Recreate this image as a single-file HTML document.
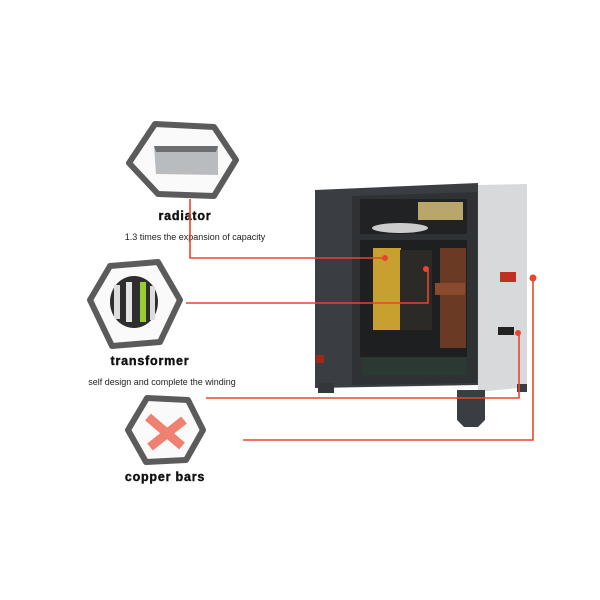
<!DOCTYPE html>
<html><head><style>
html,body{margin:0;padding:0;background:#fff;}
svg{display:block}
text{font-family:"Liberation Sans",Arial,sans-serif;}
</style></head><body>
<svg width="600" height="600" viewBox="0 0 600 600">
<rect width="600" height="600" fill="#fff"/>
<!-- hexagons -->
<polygon points="129,163 155,124 214,127 236,160 214,196 158,194" fill="#fafafa" stroke="#5b5b5b" stroke-width="6" stroke-linejoin="round"/>
<polygon points="154,146 218,146 218,175 156,174" fill="#b9bcbf"/>
<polygon points="154,146 218,146 216,152 156,152" fill="#6c6f72"/>
<polygon points="90,300 110,266 158,262 180,300 160,342 112,346" fill="#fafafa" stroke="#5b5b5b" stroke-width="6" stroke-linejoin="round"/>
<ellipse cx="134" cy="302" rx="24" ry="26" fill="#2e2e2e"/>
<rect x="114" y="285" width="6" height="34" fill="#ddd"/><rect x="126" y="282" width="6" height="40" fill="#e4e4e4"/><rect x="140" y="282" width="6" height="40" fill="#9acd32"/><rect x="150" y="286" width="5" height="34" fill="#ddd"/>
<polygon points="128,430 147,398 188,400 203,430 186,460 146,462" fill="#fafafa" stroke="#5b5b5b" stroke-width="6" stroke-linejoin="round"/>
<path d="M148 417 L182 446 M150 447 L184 420" stroke="#f08070" stroke-width="9"/>
<!-- labels -->
<text x="185" y="220" font-size="12.5" font-weight="bold" text-anchor="middle" fill="#111" stroke="#111" stroke-width="0.4" letter-spacing="0.8">radiator</text>
<text x="195" y="240" font-size="9" text-anchor="middle" fill="#222">1.3 times the expansion of capacity</text>
<text x="150" y="365" font-size="12.5" font-weight="bold" text-anchor="middle" fill="#111" stroke="#111" stroke-width="0.4" letter-spacing="0.8">transformer</text>
<text x="162" y="385" font-size="9" text-anchor="middle" fill="#222">self design and complete the winding</text>
<text x="165" y="481" font-size="12.5" font-weight="bold" text-anchor="middle" fill="#111" stroke="#111" stroke-width="0.4" letter-spacing="0.8">copper bars</text>
<!-- cabinet -->
<polygon points="315,190 478,183 478,385 315,388" fill="#3a3d41"/>
<polygon points="478,185 527,184 527,387 478,392" fill="#d8d9db"/>
<polygon points="352,196 477,192 477,383 352,385" fill="#2f3235"/>
<rect x="360" y="199" width="107" height="35" fill="#202224"/>
<rect x="418" y="202" width="45" height="18" fill="#b8a66a"/>
<ellipse cx="400" cy="228" rx="28" ry="5" fill="#ccc"/>
<rect x="360" y="240" width="107" height="117" fill="#1d1f21"/>
<rect x="373" y="248" width="28" height="82" fill="#c8a030"/>
<rect x="440" y="248" width="26" height="100" fill="#6b3a24"/>
<rect x="400" y="250" width="32" height="80" fill="#2c2a26"/>
<rect x="435" y="283" width="30" height="12" fill="#8a4a2e"/>
<rect x="362" y="357" width="105" height="18" fill="#2a3a33"/>
<rect x="500" y="272" width="16" height="10" fill="#c03020"/>
<rect x="498" y="327" width="16" height="8" fill="#222"/>
<rect x="318" y="383" width="16" height="10" fill="#33363a"/>
<polygon points="457,390 485,390 485,420 478,427 464,427 457,420" fill="#3a3d41"/>
<rect x="517" y="384" width="10" height="8" fill="#3a3d41"/>
<rect x="316" y="355" width="8" height="8" fill="#a02818"/>
<!-- red lines -->
<g stroke="#e8452c" stroke-width="1.6" fill="none">
<polyline points="190,199 190,258 385,258"/>
<polyline points="186,303 428,303 428,270"/>
<polyline points="206,398 519,398 519,334"/>
<polyline points="243,440 533,440 533,278"/>
</g>
<g fill="#e8452c">
<circle cx="385" cy="258" r="3"/><circle cx="426" cy="269" r="3"/><circle cx="518" cy="333" r="3"/><circle cx="533" cy="278" r="3.5"/>
</g>
</svg>
</body></html>
